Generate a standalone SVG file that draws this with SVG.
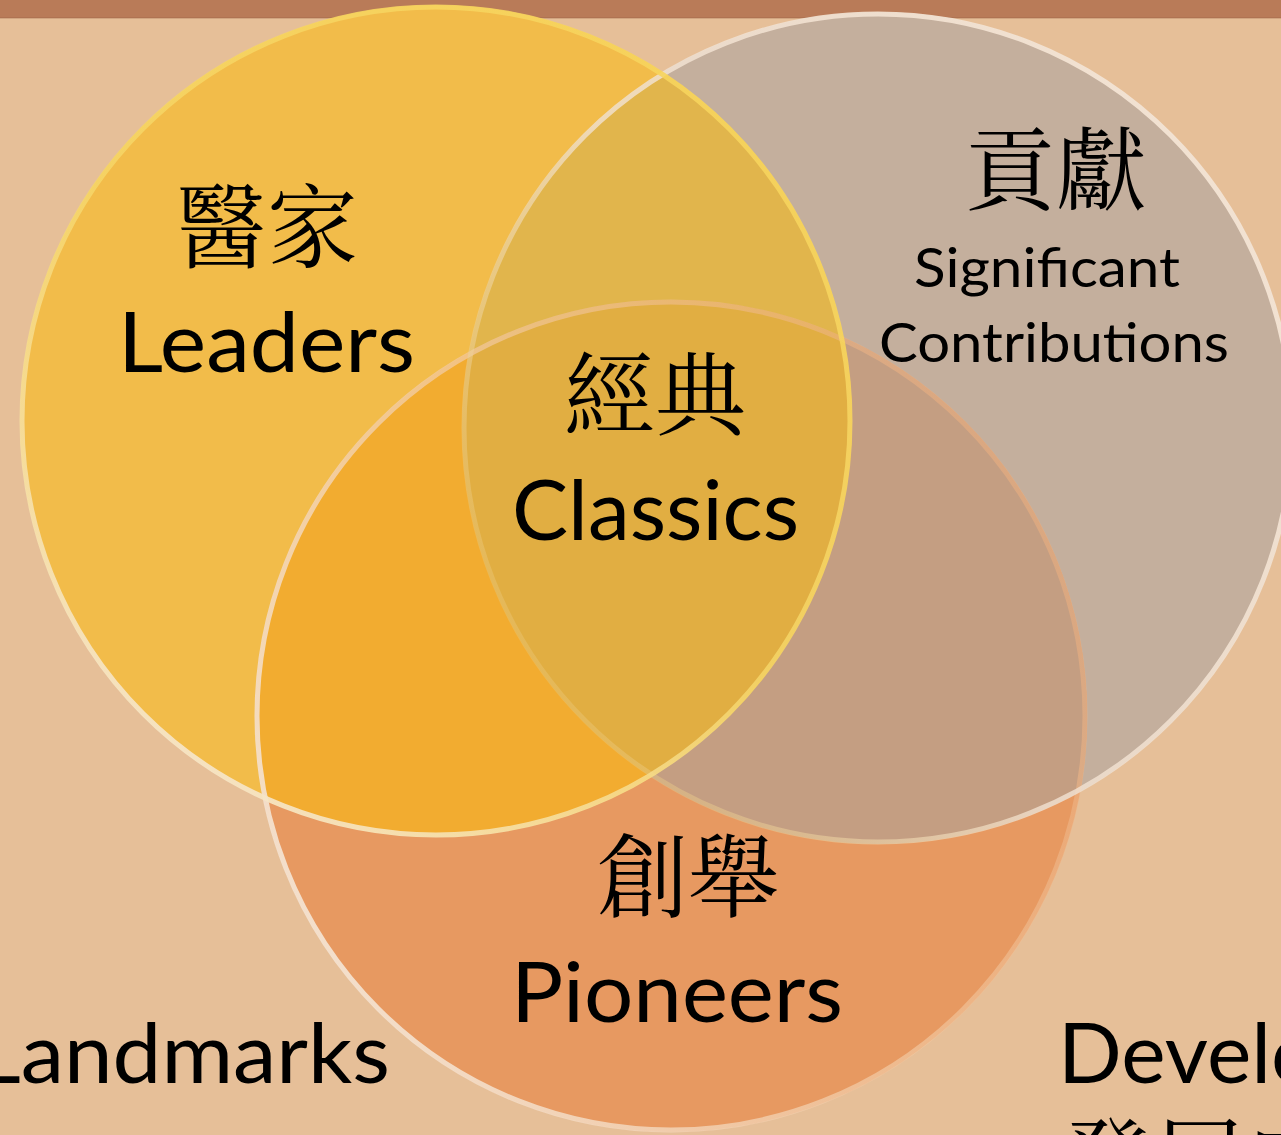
<svg xmlns="http://www.w3.org/2000/svg" width="1281" height="1135" viewBox="0 0 1281 1135">
<style>
.lat{font-family:Lato,"Open Sans","Liberation Sans",sans-serif;fill:#000}
.cjk{font-family:"Noto Serif CJK TC","Noto Sans CJK TC","Noto Sans CJK SC",serif;fill:#000;font-size:91px}
.rim{fill:none;stroke-width:5}
</style>
<defs>
<clipPath id="cY"><circle cx="436" cy="421" r="416"/></clipPath>
<clipPath id="cG"><circle cx="878" cy="428" r="416"/></clipPath>
<clipPath id="cO"><circle cx="671" cy="716" r="416"/></clipPath>
<linearGradient id="rY" gradientUnits="userSpaceOnUse" x1="150" y1="800" x2="700" y2="50">
<stop offset="0" stop-color="#F6E7D6" stop-opacity="0.95"/>
<stop offset="0.5" stop-color="#F6D86A" stop-opacity="0.8"/>
<stop offset="1" stop-color="#F7D45C" stop-opacity="0.9"/>
</linearGradient>
<linearGradient id="rG" gradientUnits="userSpaceOnUse" x1="470" y1="600" x2="1150" y2="150">
<stop offset="0" stop-color="#EBC878" stop-opacity="0.35"/>
<stop offset="0.45" stop-color="#F2E2D2" stop-opacity="0.8"/>
<stop offset="1" stop-color="#F4E4D4" stop-opacity="0.95"/>
</linearGradient>
<linearGradient id="rO" gradientUnits="userSpaceOnUse" x1="300" y1="900" x2="1000" y2="500">
<stop offset="0" stop-color="#F4E2D0" stop-opacity="0.95"/>
<stop offset="0.6" stop-color="#F2C8A0" stop-opacity="0.65"/>
<stop offset="1" stop-color="#EDB080" stop-opacity="0.55"/>
</linearGradient>
</defs>
<rect width="1281" height="1135" fill="#E6BF98"/>
<rect width="1281" height="18" fill="#B97B58"/>
<rect y="17" width="1281" height="1.5" fill="#A86E4E" opacity="0.6"/>

<g id="circles">
<circle id="circle-gray" cx="878" cy="428" r="416" fill="#C4AF9D"/>
<circle id="circle-orange" cx="671" cy="716" r="416" fill="#E79961"/>
<circle id="circle-yellow" cx="436" cy="421" r="416" fill="#F2BC4A"/>
<g clip-path="url(#cG)"><circle cx="436" cy="421" r="416" fill="#E1B54C"/></g>
<g clip-path="url(#cG)"><circle cx="671" cy="716" r="416" fill="#C49E82"/></g>
<g clip-path="url(#cO)"><circle cx="436" cy="421" r="416" fill="#F2AC30"/></g>
<g clip-path="url(#cO)"><g clip-path="url(#cG)"><circle cx="436" cy="421" r="416" fill="#E1AE42"/></g></g>
<circle class="rim" cx="671" cy="716" r="414" stroke="url(#rO)"/>
<circle class="rim" cx="878" cy="428" r="414" stroke="url(#rG)"/>
<circle class="rim" cx="436" cy="421" r="414" stroke="url(#rY)"/>
</g>

<g id="node-leaders">
<text class="cjk" x="267" y="260" text-anchor="middle">醫家</text>
<text class="lat" x="118" y="372" font-size="84" textLength="297" lengthAdjust="spacingAndGlyphs">Leaders</text>
</g>
<g id="node-contributions">
<text class="cjk" x="1056" y="203" text-anchor="middle">貢獻</text>
<text class="lat" x="914" y="287" font-size="54" textLength="266" lengthAdjust="spacingAndGlyphs">Significant</text>
<text class="lat" x="879" y="362" font-size="54" textLength="350" lengthAdjust="spacingAndGlyphs">Contributions</text>
</g>
<g id="node-classics">
<text class="cjk" x="655" y="428" text-anchor="middle">經典</text>
<text class="lat" x="512" y="540" font-size="84" textLength="287" lengthAdjust="spacingAndGlyphs">Classics</text>
</g>
<g id="node-pioneers">
<text class="cjk" x="688" y="910" text-anchor="middle">創舉</text>
<text class="lat" x="511" y="1022" font-size="84" textLength="332" lengthAdjust="spacingAndGlyphs">Pioneers</text>
</g>
<g id="node-landmarks">
<text class="lat" x="-24" y="1083" font-size="84" textLength="414" lengthAdjust="spacingAndGlyphs">Landmarks</text>
</g>
<g id="node-developments">
<text class="lat" x="1058" y="1083" font-size="84">Developments</text>
<text class="cjk" x="1062" y="1194">發展史</text>
</g>
<g id="connectors"></g>
</svg>
